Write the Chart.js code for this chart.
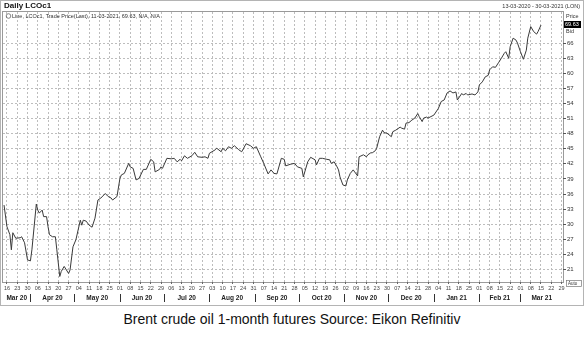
<!DOCTYPE html>
<html>
<head>
<meta charset="utf-8">
<script src="https://cdn.jsdelivr.net/npm/chart.js@4"></script>
<style>
  body { margin: 0; background: #fff; width: 584px; height: 339px; overflow: hidden; }
  #wrap { position: relative; width: 584px; height: 306px; }
  .caption { width: 584px; text-align: center; font-family: "Liberation Sans", Arial, sans-serif; font-size: 14px; color: #111; margin-top: 5px; }
</style>
</head>
<body>
<div id="wrap"><canvas id="chart" width="584" height="306"></canvas></div>
<div class="caption">Brent crude oil 1-month futures Source: Eikon Refinitiv</div>
<script>
// Days since 16 Mar 2020 and the LCOc1 close
const days = [
  -2, 0, 2, 3, 4, 6, 9, 10, 12, 14, 16, 17, 20, 21, 22, 24, 25, 27, 28, 29,
  31, 33, 34, 36, 37, 39, 42, 43, 45, 47, 50, 51, 52, 54, 56, 58, 60, 62, 64, 67,
  69, 71, 72, 75, 77, 78, 80, 83, 84, 86, 88, 90, 93, 95, 98, 100, 101, 104, 105, 106,
  109, 112, 114, 116, 118, 119, 121, 123, 126, 128, 130, 133, 135, 137, 138, 142, 143, 146, 147, 149,
  151, 153, 155, 158, 160, 163, 166, 168, 170, 173, 175, 178, 180, 182, 184, 187, 189, 190, 193, 196,
  198, 201, 202, 205, 207, 210, 211, 213, 215, 218, 220, 221, 223, 225, 226, 227, 229, 231, 232, 234,
  236, 237, 239, 240, 243, 245, 246, 248, 249, 251, 252, 254, 256, 257, 259, 262, 263, 265, 268, 269,
  271, 272, 274, 276, 278, 280, 281, 283, 284, 286, 287, 289, 291, 294, 296, 298, 300, 302, 304, 306,
  307, 310, 311, 313, 314, 317, 319, 321, 322, 324, 326, 328, 329, 331, 333, 335, 337, 339, 340, 342,
  343, 345, 347, 348, 350, 352, 354, 355, 357, 359, 361, 362, 364
];
const prices = [
  33.8, 29.5, 27.9, 24.9, 28.3, 27.2, 27.3, 27.5, 26.3, 22.9, 22.7, 24.9, 34.0, 32.8, 32.2, 32.8, 31.5, 31.5, 29.5, 27.9,
  27.5, 27.5, 24.9, 19.6, 20.6, 21.6, 20.2, 20.9, 25.5, 26.9, 30.8, 29.8, 30.8, 30.6, 29.8, 29.4, 31.2, 34.8, 35.2, 36.1,
  35.5, 35.2, 34.8, 35.5, 39.1, 39.8, 40.1, 42.1, 41.4, 41.1, 38.8, 39.1, 40.9, 40.9, 42.9, 42.4, 40.4, 40.9, 41.4, 41.1,
  43.1, 43.0, 43.1, 42.4, 42.9, 42.6, 43.6, 43.1, 43.6, 44.3, 43.4, 43.3, 43.4, 43.1, 44.1, 44.8, 45.1, 44.4, 45.1, 44.6,
  45.4, 45.1, 45.6, 44.8, 44.4, 46.0, 45.6, 45.1, 45.4, 43.4, 42.1, 40.0, 40.8, 40.1, 40.0, 43.1, 42.9, 41.6, 41.9, 42.1,
  41.4, 41.1, 39.4, 42.4, 43.3, 42.8, 41.8, 43.1, 43.1, 42.9, 42.8, 42.1, 42.4, 41.4, 40.8, 39.4, 37.8, 37.6, 38.8, 40.1,
  40.8, 40.4, 39.6, 43.4, 43.8, 43.4, 43.8, 44.2, 44.2, 44.6, 45.1, 47.4, 48.7, 48.2, 48.1, 47.4, 48.4, 48.7, 49.3, 49.1,
  48.9, 50.1, 50.2, 50.7, 51.1, 52.0, 51.4, 50.4, 51.1, 51.3, 51.1, 51.4, 51.7, 53.0, 54.4, 54.7, 56.1, 56.5, 56.1, 56.3,
  54.7, 56.0, 55.7, 56.0, 55.7, 55.9, 55.7, 56.3, 57.7, 58.3, 59.3, 59.6, 60.7, 61.3, 61.2, 62.1, 63.0, 64.0, 64.3, 63.0,
  65.3, 67.0, 66.6, 66.0, 64.3, 62.8, 64.6, 67.0, 69.3, 68.3, 67.8, 68.3, 69.6
];

// Axis ticks
const yTicks = [21, 24, 27, 30, 33, 36, 39, 42, 45, 48, 51, 54, 57, 60, 63, 66];
const weekTicks = [];
for (let d = 0; d <= 378; d += 7) weekTicks.push(d);

// Month bands: label and first day (days since 16 Mar 2020)
const monthLabels = ['Mar 20', 'Apr 20', 'May 20', 'Jun 20', 'Jul 20', 'Aug 20', 'Sep 20',
  'Oct 20', 'Nov 20', 'Dec 20', 'Jan 21', 'Feb 21', 'Mar 21'];
const monthStarts = [-15, 16, 46, 77, 107, 138, 169, 199, 230, 260, 291, 322, 350, 381];

const lastPrice = '69.63';

function dayLabel(v) {
  const d = new Date(2020, 2, 16 + v);
  return String(d.getDate()).padStart(2, '0');
}

// Frame, header texts and the month row
const decorations = {
  id: 'decorations',
  beforeDraw(chart) {
    const ctx = chart.ctx;
    const a = chart.chartArea;
    ctx.save();
    ctx.fillStyle = '#fff';
    ctx.fillRect(0, 0, chart.width, chart.height);
    ctx.strokeStyle = '#b4b4b4';
    ctx.lineWidth = 1;
    ctx.strokeRect(0.5, 0.5, chart.width - 1, chart.height - 1);
    ctx.strokeStyle = '#9a9a9a';
    ctx.strokeRect(a.left - 0.5, a.top - 0.5, a.right - a.left + 1, a.bottom - a.top + 1);
    ctx.restore();
  },
  afterDraw(chart) {
    const ctx = chart.ctx;
    const x = chart.scales.x;
    const a = chart.chartArea;
    ctx.save();
    // header
    ctx.fillStyle = '#111';
    ctx.font = 'bold 8px "Liberation Sans", Arial, sans-serif';
    ctx.textBaseline = 'middle';
    ctx.textAlign = 'left';
    ctx.fillText('Daily LCOc1', 4, 6);
    ctx.font = '5.5px "Liberation Sans", Arial, sans-serif';
    ctx.fillStyle = '#333';
    ctx.textAlign = 'right';
    ctx.fillText('13-03-2020 - 30-03-2021 (LON)', 580, 6);
    // legend line inside plot
    ctx.textAlign = 'left';
    ctx.fillText('Line, LCOc1, Trade Price(Last), 11-03-2021, 69.63, N/A, N/A', 12, 16);
    ctx.strokeStyle = '#555';
    ctx.lineWidth = 0.7;
    ctx.beginPath();
    ctx.arc(8.5, 16, 2.3, 0, Math.PI * 2);
    ctx.stroke();
    // right panel
    ctx.fillText('Price', a.right + 3, 16);
    ctx.fillStyle = '#000';
    ctx.fillRect(a.right + 1, 21, 17, 7);
    ctx.fillStyle = '#fff';
    ctx.fillText(lastPrice, a.right + 2, 24.5);
    ctx.fillStyle = '#333';
    ctx.fillText('Bid', a.right + 3, 31);
    ctx.strokeStyle = '#777';
    ctx.strokeRect(a.right + 3.5, 280.5, 15, 6);
    ctx.font = '4.5px "Liberation Sans", Arial, sans-serif';
    ctx.fillText('Auto', a.right + 5, 283.5);
    // month row
    ctx.font = 'bold 6.5px "Liberation Sans", Arial, sans-serif';
    ctx.textAlign = 'center';
    ctx.fillStyle = '#222';
    const y = a.bottom + 16;
    for (let i = 0; i < monthLabels.length; i++) {
      const s = Math.max(monthStarts[i], x.min);
      const e = Math.min(monthStarts[i + 1], x.max);
      const cx = (x.getPixelForValue(s) + x.getPixelForValue(e)) / 2;
      ctx.fillText(monthLabels[i], cx, y);
      if (i > 0) {
        const px = Math.round(x.getPixelForValue(monthStarts[i])) + 0.5;
        ctx.strokeStyle = '#333';
        ctx.lineWidth = 1;
        ctx.beginPath();
        ctx.moveTo(px, y - 4);
        ctx.lineTo(px, y + 4);
        ctx.stroke();
      }
    }
    ctx.restore();
  }
};

new Chart(document.getElementById('chart'), {
  type: 'line',
  data: {
    datasets: [{
      data: days.map((d, i) => ({ x: d, y: prices[i] })),
      borderColor: '#3a3a3a',
      borderWidth: 1,
      pointRadius: 0,
      tension: 0
    }]
  },
  options: {
    responsive: false,
    animation: false,
    layout: { padding: { left: 3, top: 12, right: 0, bottom: 0 } },
    plugins: { legend: { display: false }, tooltip: { enabled: false } },
    scales: {
      x: {
        type: 'linear',
        min: -2.7,
        max: 379,
        afterBuildTicks(scale) { scale.ticks = weekTicks.map(v => ({ value: v })); },
        afterFit(scale) { scale.height = 24; },
        grid: {
          color: '#bdbdbd',
          tickLength: 2,
          tickColor: '#666',
          tickBorderDash: []
        },
        border: { display: false, dash: [2, 2] },
        ticks: {
          autoSkip: false,
          maxRotation: 0,
          padding: 1,
          color: '#444',
          font: { size: 5.5, family: '"Liberation Sans", Arial, sans-serif' },
          callback: v => dayLabel(v)
        }
      },
      y: {
        position: 'right',
        min: 18.5,
        max: 72.2,
        afterBuildTicks(scale) { scale.ticks = yTicks.map(v => ({ value: v })); },
        afterFit(scale) { scale.width = 21; },
        grid: {
          color: '#bdbdbd',
          tickLength: 3,
          tickColor: '#555',
          tickBorderDash: []
        },
        border: { display: false, dash: [2, 2] },
        ticks: {
          padding: 1,
          color: '#333',
          font: { size: 6, family: '"Liberation Sans", Arial, sans-serif' }
        }
      }
    }
  },
  plugins: [decorations]
});
</script>
</body>
</html>
